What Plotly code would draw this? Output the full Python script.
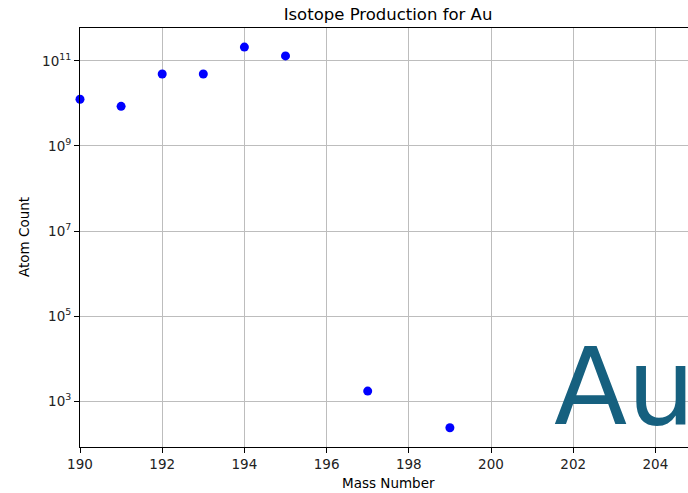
import plotly.graph_objects as go

# Isotope production data for gold
mass_numbers = [190, 191, 192, 193, 194, 195, 197, 199]
atom_counts = [1.25e10, 8.5e9, 4.9e10, 4.9e10, 2.1e11, 1.3e11, 1.74e3, 2.4e2]

y_tick_vals = [1e3, 1e5, 1e7, 1e9, 1e11]
y_tick_text = ["10<sup>3</sup>", "10<sup>5</sup>", "10<sup>7</sup>", "10<sup>9</sup>", "10<sup>11</sup>"]
x_tick_vals = [190, 192, 194, 196, 198, 200, 202, 204]

W, H = 688, 493
L, T, B = 80, 28, 46
plot_w = W - L
plot_h = H - T - B

def px_x(px):
    return (px - L) / plot_w

def px_y(py):
    return (H - B - py) / plot_h

font = "DejaVu Sans"

fig = go.Figure()
fig.add_trace(go.Scatter(
    x=mass_numbers, y=atom_counts, mode="markers",
    marker=dict(color="blue", size=9, line=dict(width=0)),
    cliponaxis=False, showlegend=False,
))

axis_common = dict(
    showline=True, linecolor="black", linewidth=1.1,
    ticks="outside", ticklen=5, tickwidth=1.1, tickcolor="black",
    showgrid=True, gridcolor="#bdbdbd", gridwidth=1.1,
    zeroline=False, tickfont=dict(family=font, size=13.5, color="#222"),
)

fig.update_xaxes(range=[190, 190 + plot_w / 41.1], tickvals=x_tick_vals,
                 mirror=True, **axis_common)
fig.update_yaxes(type="log", range=[1.927, 11.77], tickvals=y_tick_vals,
                 ticktext=y_tick_text, **axis_common)

fig.update_layout(
    width=W, height=H,
    margin=dict(l=L, r=0, t=T, b=B, pad=0),
    plot_bgcolor="white", paper_bgcolor="white",
    font=dict(family=font, color="black"),
    title=dict(text="Isotope Production for Au", x=px_x(388), xref="paper",
               xanchor="center", y=1 - 14 / H, yanchor="middle",
               font=dict(family=font, size=16.5, color="black")),
    annotations=[
        dict(text="Mass Number", xref="paper", yref="paper",
             x=px_x(388), y=px_y(483), xanchor="center", yanchor="middle",
             showarrow=False, font=dict(family=font, size=13.5, color="black")),
        dict(text="Atom Count", xref="paper", yref="paper", textangle=-90,
             x=px_x(24), y=px_y(237), xanchor="center", yanchor="middle",
             showarrow=False, font=dict(family=font, size=13.5, color="black")),
        dict(text="Au", xref="paper", yref="paper",
             x=px_x(552), y=px_y(387), xanchor="left", yanchor="middle",
             showarrow=False,
             font=dict(family=font, size=107, color="#16607f")),
    ],
)

fig.write_html("out.html")
